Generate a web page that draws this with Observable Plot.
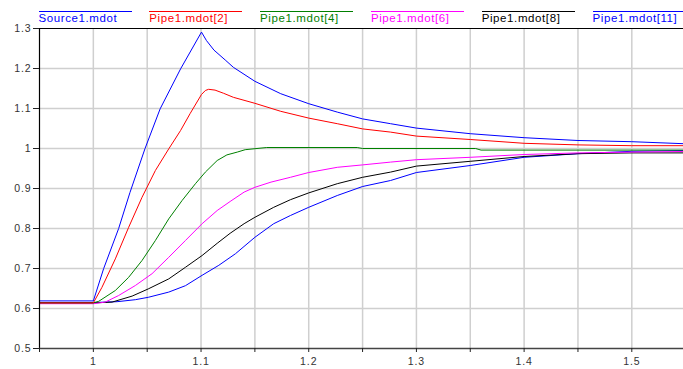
<!DOCTYPE html>
<html>
<head>
<meta charset="utf-8">
<script src="https://cdn.jsdelivr.net/npm/d3@7"></script>
<script src="https://cdn.jsdelivr.net/npm/@observablehq/plot@0.6"></script>
<style>
  html, body { margin: 0; padding: 0; background: #fff; }
  #wrap { width: 683px; height: 369px; position: relative; overflow: hidden; font-family: "Liberation Sans", Arial, sans-serif; }
  #legend { position: relative; height: 22px; width: 683px; }
  .item { position: absolute; top: 11px; width: 93px; border-top: 1px solid; font-size: 11.5px; line-height: 12px; padding-top: 0px; letter-spacing: 0.6px; white-space: nowrap; }
  svg { display: block; }
  svg text { letter-spacing: 0.9px; }
</style>
</head>
<body>
<div id="wrap">
  <div id="legend"></div>
  <div id="chart"></div>
</div>
<script>
// ---- data ----
const seriesNames = ["Source1.mdot", "Pipe1.mdot[2]", "Pipe1.mdot[4]", "Pipe1.mdot[6]", "Pipe1.mdot[8]", "Pipe1.mdot[11]"];
const seriesColors = ["#0000ff", "#ff0000", "#008000", "#ff00ff", "#000000", "#0000ff"];

const sourceT = [0.95, 1.0, 1.0096, 1.0235, 1.034, 1.048, 1.062, 1.081, 1.1004, 1.105, 1.112, 1.123, 1.13, 1.15, 1.174, 1.2, 1.2265, 1.25, 1.276, 1.30, 1.35, 1.40, 1.45, 1.50, 1.548];
const sourceV = [0.619, 0.619, 0.70, 0.80, 0.89, 1.0, 1.099, 1.199, 1.291, 1.27, 1.246, 1.22, 1.203, 1.168, 1.137, 1.112, 1.091, 1.074, 1.062, 1.051, 1.037, 1.027, 1.02, 1.017, 1.012];

const pipe2T = [0.95, 1.0, 1.008, 1.0204, 1.0328, 1.0452, 1.0576, 1.070, 1.081, 1.090, 1.1004, 1.104, 1.107, 1.113, 1.121, 1.13, 1.15, 1.174, 1.2, 1.2265, 1.25, 1.276, 1.30, 1.35, 1.40, 1.45, 1.50, 1.548];
const pipe2V = [0.614, 0.614, 0.653, 0.724, 0.803, 0.878, 0.945, 0.999, 1.045, 1.088, 1.135, 1.145, 1.148, 1.146, 1.138, 1.128, 1.113, 1.093, 1.076, 1.062, 1.049, 1.041, 1.031, 1.0225, 1.013, 1.009, 1.007, 1.007];

const pipe4T = [0.95, 1.0, 1.005, 1.0204, 1.0328, 1.0452, 1.0576, 1.07, 1.0824, 1.0948, 1.104, 1.115, 1.124, 1.1336, 1.141, 1.161, 1.245, 1.25, 1.355, 1.36, 1.548];
const pipe4V = [0.614, 0.614, 0.618, 0.645, 0.678, 0.72, 0.77, 0.824, 0.87, 0.912, 0.941, 0.97, 0.984, 0.991, 0.997, 1.0025, 1.0025, 1.0, 1.0, 0.996, 0.996];

const pipe6T = [0.95, 1.0, 1.011, 1.0235, 1.039, 1.0545, 1.070, 1.0855, 1.101, 1.115, 1.127, 1.140, 1.15, 1.165, 1.183, 1.2, 1.2265, 1.25, 1.276, 1.30, 1.35, 1.40, 1.45, 1.50, 1.548];
const pipe6V = [0.612, 0.612, 0.616, 0.6325, 0.6575, 0.687, 0.728, 0.77, 0.812, 0.845, 0.8675, 0.891, 0.903, 0.916, 0.928, 0.940, 0.953, 0.959, 0.966, 0.972, 0.978, 0.985, 0.989, 0.991, 0.9925];

const pipe8T = [0.95, 1.0, 1.0174, 1.036, 1.051, 1.070, 1.0855, 1.101, 1.115, 1.127, 1.140, 1.15, 1.1675, 1.183, 1.2, 1.2265, 1.25, 1.276, 1.30, 1.35, 1.40, 1.45, 1.50, 1.548];
const pipe8V = [0.614, 0.614, 0.616, 0.631, 0.649, 0.674, 0.703, 0.7325, 0.763, 0.788, 0.812, 0.828, 0.853, 0.872, 0.889, 0.912, 0.928, 0.941, 0.956, 0.968, 0.98, 0.987, 0.989, 0.989];

const pipe11T = [0.95, 1.0, 1.022, 1.039, 1.051, 1.070, 1.0855, 1.101, 1.1165, 1.132, 1.15, 1.1675, 1.183, 1.2, 1.2265, 1.25, 1.276, 1.30, 1.35, 1.40, 1.45, 1.50, 1.548];
const pipe11V = [0.615, 0.615, 0.617, 0.622, 0.628, 0.641, 0.657, 0.683, 0.708, 0.737, 0.778, 0.812, 0.8325, 0.853, 0.8825, 0.905, 0.92, 0.94, 0.9575, 0.978, 0.987, 0.993, 0.995];

const xMajorTicks = [1, 1.1, 1.2, 1.3, 1.4, 1.5];
const xMinorTicks = [0.95, 1.05, 1.15, 1.25, 1.35, 1.45];
const xGridLines = [1, 1.05, 1.1, 1.15, 1.2, 1.25, 1.3, 1.35, 1.4, 1.45, 1.5];
const yTicks = [0.5, 0.6, 0.7, 0.8, 0.9, 1, 1.1, 1.2, 1.3];
const yGridLines = [0.6, 0.7, 0.8, 0.9, 1, 1.1, 1.2];
const xDomain = [0.95, 1.548];
const yDomain = [0.5, 1.3];

// ---- build ----
const seriesT = [sourceT, pipe2T, pipe4T, pipe6T, pipe8T, pipe11T];
const seriesV = [sourceV, pipe2V, pipe4V, pipe6V, pipe8V, pipe11V];
const rows = seriesNames.map((name, k) => seriesT[k].map((t, i) => ({name, t, v: seriesV[k][i]})));

// legend
const legend = document.getElementById("legend");
seriesNames.forEach((name, k) => {
  const d = document.createElement("div");
  d.className = "item";
  d.style.left = (38.5 + k * 110.8) + "px";
  d.style.color = seriesColors[k];
  d.style.borderTopColor = seriesColors[k];
  d.textContent = name;
  legend.appendChild(d);
});

const lineMarks = rows.slice().reverse().map((r, i) => {
  const k = rows.length - 1 - i;
  return Plot.line(r, {x: "t", y: "v", stroke: seriesColors[k], strokeWidth: 1, curve: "linear"});
});

const fmt = d => String(d);

const chart = Plot.plot({
  width: 683,
  height: 347,
  marginTop: 6,
  marginBottom: 21,
  marginLeft: 39,
  marginRight: 0,
  x: {domain: xDomain, label: null},
  y: {domain: yDomain, label: null},
  style: {fontFamily: "'Liberation Sans', Arial, sans-serif", fontSize: "10.5px", color: "#333", background: "#fff", overflow: "visible"},
  marks: [
    Plot.gridX(xGridLines, {stroke: "#cfcfcf", strokeOpacity: 1, strokeWidth: 1.5}),
    Plot.gridY(yGridLines, {stroke: "#cfcfcf", strokeOpacity: 1, strokeWidth: 1.5}),
    ...lineMarks,
    Plot.ruleY([yDomain[1]], {stroke: "#000", strokeWidth: 1.2}),
    Plot.ruleX([xDomain[0]], {stroke: "#000", strokeWidth: 1.2}),
    Plot.ruleY([yDomain[0]], {stroke: "#444", strokeWidth: 1.5}),
    Plot.axisX(xMinorTicks, {tickSize: 4, tickFormat: () => "", stroke: "#222", label: null}),
    Plot.axisX(xMajorTicks, {tickSize: 4, tickPadding: 5, tickFormat: fmt, stroke: "#222", fill: "#333", label: null}),
    Plot.axisY(yTicks, {tickSize: 6, tickPadding: 2, tickFormat: fmt, stroke: "#222", fill: "#333", label: null})
  ]
});
document.getElementById("chart").appendChild(chart);
</script>
</body>
</html>
